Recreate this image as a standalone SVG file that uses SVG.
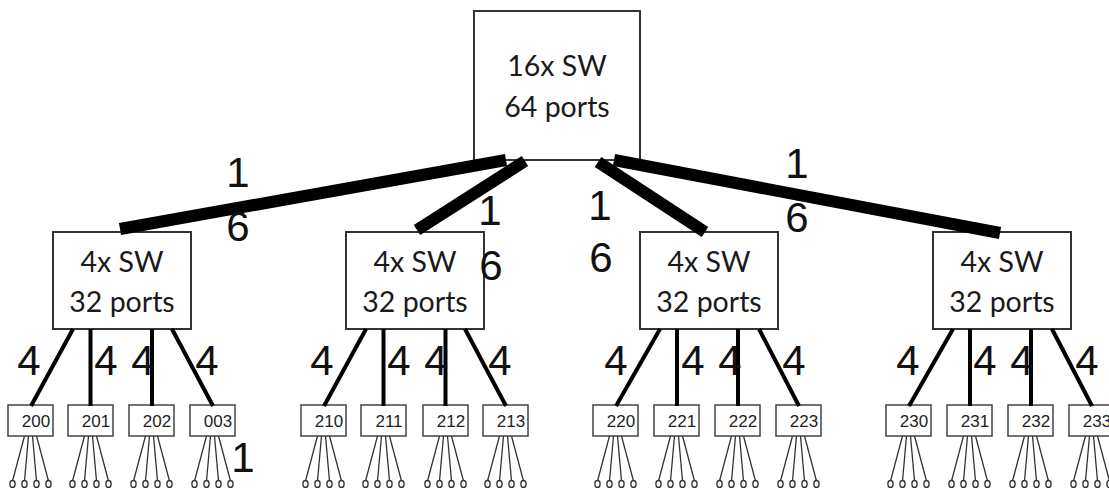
<svg xmlns="http://www.w3.org/2000/svg" width="1109" height="488" viewBox="0 0 1109 488">
<style>
.box{fill:#fff;stroke:#333;stroke-width:2}
.leaf{fill:#fff;stroke:#444;stroke-width:1.5}
.big{font-family:Lato,"Open Sans",sans-serif;font-size:28.5px;fill:#1a1a1a;text-anchor:middle}
.num{font-family:"Liberation Sans",Arial,sans-serif;font-size:42px;fill:#111;text-anchor:middle}
.lt{font-family:"Liberation Sans",Arial,sans-serif;font-size:17px;fill:#222;text-anchor:middle}
.trunk{stroke:#000;stroke-width:12;fill:none}
.up{stroke:#000;stroke-width:4;fill:none}
.fan{stroke:#333;stroke-width:1.3;fill:none}
.end{fill:#fff;stroke:#333;stroke-width:1.4}
</style>
<g id="top">
<rect class="box" x="474" y="11" width="166" height="149"/>
<text class="big" x="557" y="76">16x SW</text>
<text class="big" x="557" y="117">64 ports</text>
</g>
<g id="mid1"><rect class="box" x="53" y="232" width="138" height="97"/><text class="big" x="122" y="272">4x SW</text><text class="big" x="122" y="312">32 ports</text></g>
<g id="mid2"><rect class="box" x="346" y="232" width="138" height="97"/><text class="big" x="415" y="272">4x SW</text><text class="big" x="415" y="312">32 ports</text></g>
<g id="mid3"><rect class="box" x="640" y="232" width="138" height="97"/><text class="big" x="709" y="272">4x SW</text><text class="big" x="709" y="312">32 ports</text></g>
<g id="mid4"><rect class="box" x="933" y="232" width="138" height="97"/><text class="big" x="1002" y="272">4x SW</text><text class="big" x="1002" y="312">32 ports</text></g>

<g id="leaves">
<g id="leaf200"><rect class="leaf" x="8" y="405" width="45" height="31"/><text class="lt" x="36" y="427">200</text></g>
<g id="leaf201"><rect class="leaf" x="68" y="405" width="45" height="31"/><text class="lt" x="96" y="427">201</text></g>
<g id="leaf202"><rect class="leaf" x="129" y="405" width="45" height="31"/><text class="lt" x="157" y="427">202</text></g>
<g id="leaf003"><rect class="leaf" x="190" y="405" width="45" height="31"/><text class="lt" x="218" y="427">003</text></g>
<g id="leaf210"><rect class="leaf" x="301" y="405" width="45" height="31"/><text class="lt" x="329" y="427">210</text></g>
<g id="leaf211"><rect class="leaf" x="361" y="405" width="45" height="31"/><text class="lt" x="389" y="427">211</text></g>
<g id="leaf212"><rect class="leaf" x="423" y="405" width="45" height="31"/><text class="lt" x="451" y="427">212</text></g>
<g id="leaf213"><rect class="leaf" x="483" y="405" width="45" height="31"/><text class="lt" x="511" y="427">213</text></g>
<g id="leaf220"><rect class="leaf" x="593" y="405" width="45" height="31"/><text class="lt" x="621" y="427">220</text></g>
<g id="leaf221"><rect class="leaf" x="654" y="405" width="45" height="31"/><text class="lt" x="682" y="427">221</text></g>
<g id="leaf222"><rect class="leaf" x="715" y="405" width="45" height="31"/><text class="lt" x="743" y="427">222</text></g>
<g id="leaf223"><rect class="leaf" x="776" y="405" width="45" height="31"/><text class="lt" x="804" y="427">223</text></g>
<g id="leaf230"><rect class="leaf" x="886" y="405" width="45" height="31"/><text class="lt" x="914" y="427">230</text></g>
<g id="leaf231"><rect class="leaf" x="947" y="405" width="45" height="31"/><text class="lt" x="975" y="427">231</text></g>
<g id="leaf232"><rect class="leaf" x="1008" y="405" width="45" height="31"/><text class="lt" x="1036" y="427">232</text></g>
<g id="leaf233"><rect class="leaf" x="1069" y="405" width="45" height="31"/><text class="lt" x="1097" y="427">233</text></g>
</g>

<g id="connectors">
<line class="trunk" x1="120" y1="229" x2="506" y2="160"/>
<line class="trunk" x1="417" y1="230" x2="525" y2="161"/>
<line class="trunk" x1="598" y1="162" x2="705" y2="232"/>
<line class="trunk" x1="614" y1="160" x2="1000" y2="233"/>

<line class="up" x1="73" y1="329" x2="31" y2="406"/>
<line class="up" x1="90.5" y1="329" x2="90.5" y2="406"/>
<line class="up" x1="152" y1="329" x2="152" y2="406"/>
<line class="up" x1="172" y1="329" x2="213" y2="406"/>

<line class="up" x1="366" y1="329" x2="324" y2="406"/>
<line class="up" x1="383.5" y1="329" x2="383.5" y2="406"/>
<line class="up" x1="445.5" y1="329" x2="445.5" y2="406"/>
<line class="up" x1="465" y1="329" x2="506" y2="406"/>

<line class="up" x1="660" y1="329" x2="616" y2="406"/>
<line class="up" x1="677" y1="329" x2="677" y2="406"/>
<line class="up" x1="738" y1="329" x2="738" y2="406"/>
<line class="up" x1="759" y1="329" x2="799" y2="406"/>

<line class="up" x1="953" y1="329" x2="909" y2="406"/>
<line class="up" x1="970" y1="329" x2="970" y2="406"/>
<line class="up" x1="1031" y1="329" x2="1031" y2="406"/>
<line class="up" x1="1052" y1="329" x2="1092" y2="406"/>

<g id="fanout">
<path class="fan" d="M24.5 436L12.5 481M28.5 436L24.5 481M32.5 436L36.5 481M36.5 436L48.5 481"/>
<path class="fan" d="M84.5 436L72.5 481M88.5 436L84.5 481M92.5 436L96.5 481M96.5 436L108.5 481"/>
<path class="fan" d="M145.5 436L133.5 481M149.5 436L145.5 481M153.5 436L157.5 481M157.5 436L169.5 481"/>
<path class="fan" d="M206.5 436L194.5 481M210.5 436L206.5 481M214.5 436L218.5 481M218.5 436L230.5 481"/>
<path class="fan" d="M317.5 436L305.5 481M321.5 436L317.5 481M325.5 436L329.5 481M329.5 436L341.5 481"/>
<path class="fan" d="M377.5 436L365.5 481M381.5 436L377.5 481M385.5 436L389.5 481M389.5 436L401.5 481"/>
<path class="fan" d="M439.5 436L427.5 481M443.5 436L439.5 481M447.5 436L451.5 481M451.5 436L463.5 481"/>
<path class="fan" d="M499.5 436L487.5 481M503.5 436L499.5 481M507.5 436L511.5 481M511.5 436L523.5 481"/>
<path class="fan" d="M609.5 436L597.5 481M613.5 436L609.5 481M617.5 436L621.5 481M621.5 436L633.5 481"/>
<path class="fan" d="M670.5 436L658.5 481M674.5 436L670.5 481M678.5 436L682.5 481M682.5 436L694.5 481"/>
<path class="fan" d="M731.5 436L719.5 481M735.5 436L731.5 481M739.5 436L743.5 481M743.5 436L755.5 481"/>
<path class="fan" d="M792.5 436L780.5 481M796.5 436L792.5 481M800.5 436L804.5 481M804.5 436L816.5 481"/>
<path class="fan" d="M902.5 436L890.5 481M906.5 436L902.5 481M910.5 436L914.5 481M914.5 436L926.5 481"/>
<path class="fan" d="M963.5 436L951.5 481M967.5 436L963.5 481M971.5 436L975.5 481M975.5 436L987.5 481"/>
<path class="fan" d="M1024.5 436L1012.5 481M1028.5 436L1024.5 481M1032.5 436L1036.5 481M1036.5 436L1048.5 481"/>
<path class="fan" d="M1085.5 436L1073.5 481M1089.5 436L1085.5 481M1093.5 436L1097.5 481M1097.5 436L1109.5 481"/>
</g>
</g>

<g id="endpoints">
<g class="end">
<ellipse cx="12.5" cy="484" rx="2.6" ry="3.5"/><ellipse cx="24.5" cy="484" rx="2.6" ry="3.5"/><ellipse cx="36.5" cy="484" rx="2.6" ry="3.5"/><ellipse cx="48.5" cy="484" rx="2.6" ry="3.5"/>
<ellipse cx="72.5" cy="484" rx="2.6" ry="3.5"/><ellipse cx="84.5" cy="484" rx="2.6" ry="3.5"/><ellipse cx="96.5" cy="484" rx="2.6" ry="3.5"/><ellipse cx="108.5" cy="484" rx="2.6" ry="3.5"/>
<ellipse cx="133.5" cy="484" rx="2.6" ry="3.5"/><ellipse cx="145.5" cy="484" rx="2.6" ry="3.5"/><ellipse cx="157.5" cy="484" rx="2.6" ry="3.5"/><ellipse cx="169.5" cy="484" rx="2.6" ry="3.5"/>
<ellipse cx="194.5" cy="484" rx="2.6" ry="3.5"/><ellipse cx="206.5" cy="484" rx="2.6" ry="3.5"/><ellipse cx="218.5" cy="484" rx="2.6" ry="3.5"/><ellipse cx="230.5" cy="484" rx="2.6" ry="3.5"/>
<ellipse cx="305.5" cy="484" rx="2.6" ry="3.5"/><ellipse cx="317.5" cy="484" rx="2.6" ry="3.5"/><ellipse cx="329.5" cy="484" rx="2.6" ry="3.5"/><ellipse cx="341.5" cy="484" rx="2.6" ry="3.5"/>
<ellipse cx="365.5" cy="484" rx="2.6" ry="3.5"/><ellipse cx="377.5" cy="484" rx="2.6" ry="3.5"/><ellipse cx="389.5" cy="484" rx="2.6" ry="3.5"/><ellipse cx="401.5" cy="484" rx="2.6" ry="3.5"/>
<ellipse cx="427.5" cy="484" rx="2.6" ry="3.5"/><ellipse cx="439.5" cy="484" rx="2.6" ry="3.5"/><ellipse cx="451.5" cy="484" rx="2.6" ry="3.5"/><ellipse cx="463.5" cy="484" rx="2.6" ry="3.5"/>
<ellipse cx="487.5" cy="484" rx="2.6" ry="3.5"/><ellipse cx="499.5" cy="484" rx="2.6" ry="3.5"/><ellipse cx="511.5" cy="484" rx="2.6" ry="3.5"/><ellipse cx="523.5" cy="484" rx="2.6" ry="3.5"/>
<ellipse cx="597.5" cy="484" rx="2.6" ry="3.5"/><ellipse cx="609.5" cy="484" rx="2.6" ry="3.5"/><ellipse cx="621.5" cy="484" rx="2.6" ry="3.5"/><ellipse cx="633.5" cy="484" rx="2.6" ry="3.5"/>
<ellipse cx="658.5" cy="484" rx="2.6" ry="3.5"/><ellipse cx="670.5" cy="484" rx="2.6" ry="3.5"/><ellipse cx="682.5" cy="484" rx="2.6" ry="3.5"/><ellipse cx="694.5" cy="484" rx="2.6" ry="3.5"/>
<ellipse cx="719.5" cy="484" rx="2.6" ry="3.5"/><ellipse cx="731.5" cy="484" rx="2.6" ry="3.5"/><ellipse cx="743.5" cy="484" rx="2.6" ry="3.5"/><ellipse cx="755.5" cy="484" rx="2.6" ry="3.5"/>
<ellipse cx="780.5" cy="484" rx="2.6" ry="3.5"/><ellipse cx="792.5" cy="484" rx="2.6" ry="3.5"/><ellipse cx="804.5" cy="484" rx="2.6" ry="3.5"/><ellipse cx="816.5" cy="484" rx="2.6" ry="3.5"/>
<ellipse cx="890.5" cy="484" rx="2.6" ry="3.5"/><ellipse cx="902.5" cy="484" rx="2.6" ry="3.5"/><ellipse cx="914.5" cy="484" rx="2.6" ry="3.5"/><ellipse cx="926.5" cy="484" rx="2.6" ry="3.5"/>
<ellipse cx="951.5" cy="484" rx="2.6" ry="3.5"/><ellipse cx="963.5" cy="484" rx="2.6" ry="3.5"/><ellipse cx="975.5" cy="484" rx="2.6" ry="3.5"/><ellipse cx="987.5" cy="484" rx="2.6" ry="3.5"/>
<ellipse cx="1012.5" cy="484" rx="2.6" ry="3.5"/><ellipse cx="1024.5" cy="484" rx="2.6" ry="3.5"/><ellipse cx="1036.5" cy="484" rx="2.6" ry="3.5"/><ellipse cx="1048.5" cy="484" rx="2.6" ry="3.5"/>
<ellipse cx="1073.5" cy="484" rx="2.6" ry="3.5"/><ellipse cx="1085.5" cy="484" rx="2.6" ry="3.5"/><ellipse cx="1097.5" cy="484" rx="2.6" ry="3.5"/><ellipse cx="1109.5" cy="484" rx="2.6" ry="3.5"/>
</g>
</g>

<g id="labels">
<text class="num" x="238" y="187">1</text><text class="num" x="238" y="241">6</text>
<text class="num" x="490" y="225">1</text><text class="num" x="491" y="280">6</text>
<text class="num" x="600" y="220">1</text><text class="num" x="601" y="272">6</text>
<text class="num" x="797" y="178">1</text><text class="num" x="797" y="232">6</text>
<text class="num" x="29" y="375">4</text><text class="num" x="106" y="375">4</text><text class="num" x="143" y="375">4</text><text class="num" x="207" y="375">4</text>
<text class="num" x="322" y="375">4</text><text class="num" x="399" y="375">4</text><text class="num" x="436" y="375">4</text><text class="num" x="500" y="375">4</text>
<text class="num" x="616" y="375">4</text><text class="num" x="693" y="375">4</text><text class="num" x="730" y="375">4</text><text class="num" x="794" y="375">4</text>
<text class="num" x="908" y="375">4</text><text class="num" x="985" y="375">4</text><text class="num" x="1022" y="375">4</text><text class="num" x="1087" y="375">4</text>
<text class="num" x="243" y="472">1</text>
</g>
</svg>
